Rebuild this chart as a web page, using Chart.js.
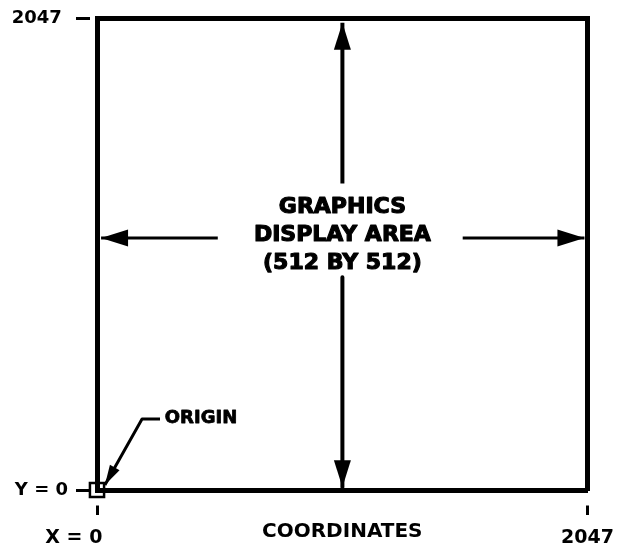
<!DOCTYPE html>
<html>
<head>
<meta charset="utf-8">
<script src="https://cdn.jsdelivr.net/npm/chart.js@4.4.1/dist/chart.umd.min.js"></script>
<style>
html, body { margin: 0; padding: 0; background: #fff; }
canvas { display: block; }
</style>
</head>
<body>
<canvas id="myChart" width="626" height="548"></canvas>
<script>
// coordinate range of the display
const axisMin = 0;
const axisMax = 2047;
const xTickValues = [0, 2047];
const xTickLabels = ['X = 0', '2047'];
const yTickValues = [0, 2047];
const yTickLabels = ['Y = 0', '2047'];
const axisTitle = 'COORDINATES';

// arrows, in display coordinates
const upArrow = [{x: 1024, y: 1331}, {x: 1024, y: 2030}];
const downArrow = [{x: 1024, y: 924}, {x: 1024, y: 12}];
const leftArrow = [{x: 504, y: 1095}, {x: 17, y: 1095}];
const rightArrow = [{x: 1526, y: 1095}, {x: 2034, y: 1095}];
const originLeader = [{x: 263, y: 308}, {x: 188, y: 308}, {x: 33, y: 22}];
const originPoint = [{x: 0, y: 0}];

// labels inside the area
const centerLines = ['GRAPHICS', 'DISPLAY AREA', '(512 BY 512)'];
const centerLineX = 1024;
const centerLineY = [1227, 1106, 984];
const originLabel = 'ORIGIN';
const originLabelPos = {x: 283, y: 312};

const font = '"DejaVu Sans"';

const arrowHeads = {
    id: 'arrowHeads',
    afterDatasetsDraw(chart) {
        const ctx = chart.ctx;
        chart.data.datasets.forEach(function (ds, i) {
            if (!ds.headLength) return;
            let pts = chart.getDatasetMeta(i).data;
            let tip = pts[pts.length - 1];
            let from = pts[pts.length - 2];
            let a = Math.atan2(tip.y - from.y, tip.x - from.x);
            ctx.save();
            ctx.translate(tip.x, tip.y);
            ctx.rotate(a);
            ctx.beginPath();
            ctx.moveTo(0, 0);
            ctx.lineTo(-ds.headLength, -ds.headWidth / 2);
            ctx.lineTo(-ds.headLength, ds.headWidth / 2);
            ctx.closePath();
            ctx.fillStyle = ds.borderColor;
            ctx.fill();
            ctx.restore();
        });
    }
};

// heavy lettering: fill plus a thin outline of the same colour
function heavyText(ctx, t, px, py) {
    ctx.fillText(t, px, py);
    ctx.strokeText(t, px, py);
}

const notes = {
    id: 'notes',
    afterDatasetsDraw(chart) {
        const ctx = chart.ctx;
        const x = chart.scales.x;
        const y = chart.scales.y;
        ctx.save();
        ctx.fillStyle = '#000';
        ctx.strokeStyle = '#000';
        ctx.lineJoin = 'round';
        ctx.textBaseline = 'middle';
        ctx.textAlign = 'center';
        ctx.lineWidth = 1.2;
        ctx.font = 'bold 22px ' + font;
        centerLines.forEach(function (t, i) {
            heavyText(ctx, t, x.getPixelForValue(centerLineX), y.getPixelForValue(centerLineY[i]));
        });
        ctx.textAlign = 'left';
        ctx.lineWidth = 0.8;
        ctx.font = 'bold 18px ' + font;
        heavyText(ctx, originLabel, x.getPixelForValue(originLabelPos.x), y.getPixelForValue(originLabelPos.y));
        ctx.restore();
    }
};

function arrowSet(points, width, len, head) {
    return {
        data: points,
        showLine: true,
        borderColor: '#000',
        borderWidth: width,
        borderCapStyle: 'butt',
        borderJoinStyle: 'round',
        pointRadius: 0,
        clip: false,
        headLength: len,
        headWidth: head
    };
}

function frameAxis(position, size) {
    return {
        type: 'linear',
        position: position,
        min: axisMin,
        max: axisMax,
        ticks: { display: false },
        grid: { drawOnChartArea: false, drawTicks: false },
        border: { color: '#000', width: 5 },
        afterFit: function (scale) {
            if (scale.isHorizontal()) scale.height = size; else scale.width = size;
        }
    };
}

new Chart(document.getElementById('myChart'), {
    type: 'scatter',
    data: {
        datasets: [
            arrowSet(upArrow, 4, 27, 17),
            arrowSet(downArrow, 4, 27, 17),
            arrowSet(leftArrow, 3, 27, 17),
            arrowSet(rightArrow, 3, 27, 17),
            arrowSet(originLeader, 3, 20, 11),
            {
                data: originPoint,
                pointStyle: 'rect',
                pointRadius: 10,
                borderWidth: 2.5,
                borderColor: '#000',
                backgroundColor: 'rgba(0,0,0,0)',
                clip: false
            }
        ]
    },
    options: {
        responsive: false,
        animation: false,
        devicePixelRatio: 1,
        events: [],
        layout: { padding: 0 },
        plugins: { legend: { display: false }, tooltip: { enabled: false } },
        scales: {
            x: {
                type: 'linear',
                position: 'bottom',
                min: axisMin,
                max: axisMax,
                afterBuildTicks: function (scale) {
                    scale.ticks = xTickValues.map((v) => ({ value: v }));
                },
                afterFit: function (scale) { scale.height = 58; },
                ticks: {
                    color: '#000',
                    padding: 12,
                    maxRotation: 0,
                    autoSkip: false,
                    font: { family: font, weight: 'bold', size: 19 },
                    // first label sits left of its tick in the original
                    callback: (value, index) => index === 0 ? xTickLabels[index] + '       ' : xTickLabels[index]
                },
                grid: {
                    drawOnChartArea: false,
                    tickLength: 25,
                    tickColor: '#000',
                    tickWidth: 3,
                    tickBorderDash: [10, 12.5],
                    tickBorderDashOffset: 10
                },
                border: { color: '#000', width: 5 },
                title: {
                    display: true,
                    text: axisTitle,
                    color: '#000',
                    padding: { top: 0, bottom: 4 },
                    font: { family: font, weight: 'bold', size: 20 }
                }
            },
            y: {
                type: 'linear',
                position: 'left',
                min: axisMin,
                max: axisMax,
                afterBuildTicks: function (scale) {
                    scale.ticks = yTickValues.map((v) => ({ value: v }));
                },
                afterFit: function (scale) { scale.width = 97; },
                ticks: {
                    color: '#000',
                    padding: 8,
                    autoSkip: false,
                    font: { family: font, weight: 'bold', size: 18 },
                    callback: (value, index) => index === 1 ? yTickLabels[index] + ' ' : yTickLabels[index]
                },
                grid: {
                    drawOnChartArea: false,
                    tickLength: 21,
                    tickColor: '#000',
                    tickWidth: 3,
                    tickBorderDash: [14, 20]
                },
                border: { color: '#000', width: 5 }
            },
            x2: frameAxis('top', 18),
            y2: frameAxis('right', 38)
        }
    },
    plugins: [arrowHeads, notes]
});
</script>
</body>
</html>
